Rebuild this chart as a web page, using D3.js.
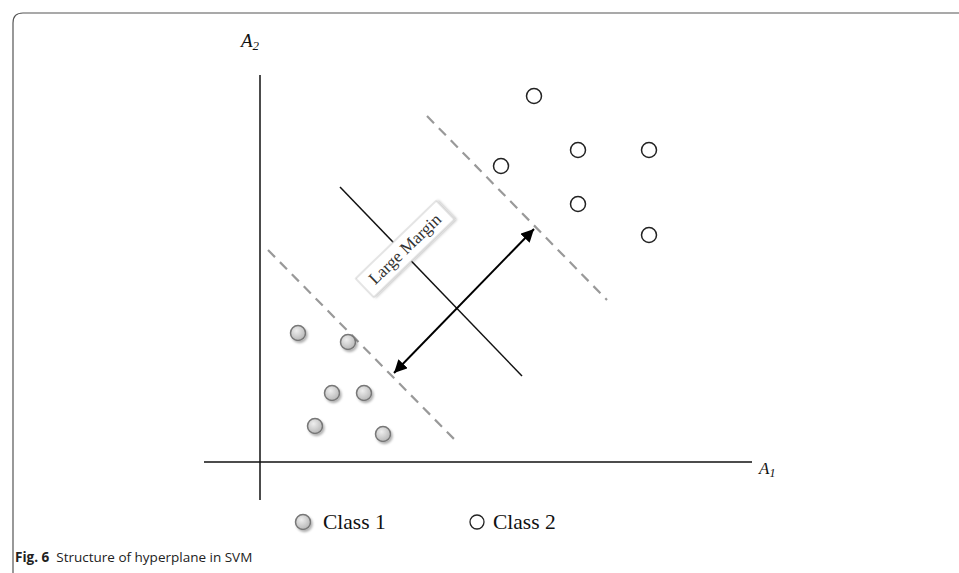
<!DOCTYPE html>
<html><head><meta charset="utf-8">
<script src="https://cdn.jsdelivr.net/npm/d3@7/dist/d3.min.js"></script>
<style>html,body{margin:0;padding:0;background:#fff;}svg{display:block;}</style>
</head><body>
<script>
// Data (abstract feature units, A1 horizontal, A2 vertical)
const class1 = [[7.6,25.8],[17.6,24],[14.4,13.8],[20.8,13.8],[11,7.2],[24.6,5.6]];
const class2 = [[54.8,73.2],[63.6,62.4],[77.8,62.4],[48.2,59.2],[63.6,51.6],[77.8,45.4]];
const hyperplane = [[16,55],[52.4,17.2]];
const marginUpper = [[33.4,69.2],[69.4,32.4]];
const marginLower = [[1.6,42.4],[39,4.4]];
const marginArrow = [[26.8,17.8],[54.8,46.6]];
const labelPos = [29,42.6];
const xAxisExtent = [-11.2,98.4];
const yAxisExtent = [-7.6,77.4];
const legendLabels = ["Class 1","Class 2"];

const W=959,H=573;
const svg=d3.select("body").append("svg").attr("width",W).attr("height",H);
const x=d3.scaleLinear().domain([0,100]).range([260,760]);
const y=d3.scaleLinear().domain([0,80]).range([462,62]);

const defs=svg.append("defs");
const g1=defs.append("radialGradient").attr("id","gfill").attr("cx","40%").attr("cy","35%").attr("r","65%");
g1.append("stop").attr("offset","0%").attr("stop-color","#eeeeee");
g1.append("stop").attr("offset","100%").attr("stop-color","#b8b8b8");
const f=defs.append("filter").attr("id","shadow").attr("x","-50%").attr("y","-50%").attr("width","200%").attr("height","200%");
f.append("feDropShadow").attr("dx",1.5).attr("dy",2).attr("stdDeviation",1.2).attr("flood-color","#000").attr("flood-opacity",0.3);
const f2=defs.append("filter").attr("id","boxshadow").attr("x","-20%").attr("y","-50%").attr("width","140%").attr("height","200%");
f2.append("feDropShadow").attr("dx",1.5).attr("dy",1.5).attr("stdDeviation",1).attr("flood-color","#000").attr("flood-opacity",0.25);
["s","e"].forEach(k=>{
  const m=defs.append("marker").attr("id","arr"+k).attr("viewBox","0 0 10 10").attr("refX",10).attr("refY",5)
   .attr("markerWidth",6.5).attr("markerHeight",6.5).attr("markerUnits","strokeWidth").attr("orient",k==="s"?"auto-start-reverse":"auto");
  m.append("path").attr("d","M0,0L10,5L0,10Z").attr("fill","#000");
});

// Frame
svg.append("path").attr("d",`M13,${H+2} L13,23 Q13,13 23,13 L${W+2},13`).attr("fill","none").attr("stroke","#555").attr("stroke-width",1.2);

// Axes
svg.append("line").attr("x1",x(xAxisExtent[0])).attr("x2",x(xAxisExtent[1])).attr("y1",y(0)).attr("y2",y(0)).attr("stroke","#111").attr("stroke-width",1.5);
svg.append("line").attr("x1",x(0)).attr("x2",x(0)).attr("y1",y(yAxisExtent[0])).attr("y2",y(yAxisExtent[1])).attr("stroke","#111").attr("stroke-width",1.5);

const serif="'Liberation Serif','Times New Roman',serif";
const a2=svg.append("text").attr("x",x(-3.8)).attr("y",y(83)).attr("font-family",serif).attr("font-style","italic").attr("font-size",19).attr("fill","#111");
a2.append("tspan").text("A");
a2.append("tspan").attr("font-size",13).attr("dy",3).text("2");
const a1=svg.append("text").attr("x",x(99.8)).attr("y",y(-2.4)).attr("font-family",serif).attr("font-style","italic").attr("font-size",17).attr("fill","#111");
a1.append("tspan").text("A");
a1.append("tspan").attr("font-size",12).attr("dy",3).text("1");

// Lines
const seg=(d,dash,col,w)=>svg.append("line").attr("x1",x(d[0][0])).attr("y1",y(d[0][1])).attr("x2",x(d[1][0])).attr("y2",y(d[1][1]))
  .attr("stroke",col).attr("stroke-width",w).attr("stroke-dasharray",dash);
seg(marginUpper,"10,7","#999",2.2);
seg(marginLower,"10,7","#999",2.2);
seg(hyperplane,null,"#111",1.5);
seg(marginArrow,null,"#000",2).attr("marker-start","url(#arrs)").attr("marker-end","url(#arre)");

// Label box
const lg=svg.append("g").attr("transform",`translate(${x(labelPos[0])},${y(labelPos[1])}) rotate(-44)`);
lg.append("rect").attr("x",-56).attr("y",-13).attr("width",112).attr("height",26).attr("fill","#fff").attr("stroke","#ccc").attr("stroke-width",1).attr("filter","url(#boxshadow)");
lg.append("text").attr("x",0).attr("y",5.5).attr("text-anchor","middle").attr("font-family",serif).attr("font-size",17).attr("fill","#333").text("Large Margin");

// Points
svg.selectAll(".c1").data(class1).join("circle").attr("cx",d=>x(d[0])).attr("cy",d=>y(d[1])).attr("r",7.5)
  .attr("fill","url(#gfill)").attr("stroke","#777").attr("stroke-width",1.5).attr("filter","url(#shadow)");
svg.selectAll(".c2").data(class2).join("circle").attr("cx",d=>x(d[0])).attr("cy",d=>y(d[1])).attr("r",7.5)
  .attr("fill","#fff").attr("stroke","#222").attr("stroke-width",1.5);

// Legend
svg.append("circle").attr("cx",303).attr("cy",522).attr("r",7.5).attr("fill","url(#gfill)").attr("stroke","#777").attr("stroke-width",1.5).attr("filter","url(#shadow)");
svg.append("text").attr("x",323).attr("y",529).attr("font-family",serif).attr("font-size",21.5).attr("fill","#111").text(legendLabels[0]);
svg.append("circle").attr("cx",477).attr("cy",522).attr("r",7).attr("fill","#fff").attr("stroke","#222").attr("stroke-width",1.3);
svg.append("text").attr("x",493).attr("y",529).attr("font-family",serif).attr("font-size",21.5).attr("fill","#111").text(legendLabels[1]);

// Caption
const cap=svg.append("text").attr("x",15).attr("y",562).attr("font-family","'Open Sans',sans-serif").attr("font-size",13.5).attr("fill","#222");
cap.append("tspan").attr("font-weight","bold").text("Fig. 6");
cap.append("tspan").attr("dx",7).text("Structure of hyperplane in SVM");
</script>
</body></html>
